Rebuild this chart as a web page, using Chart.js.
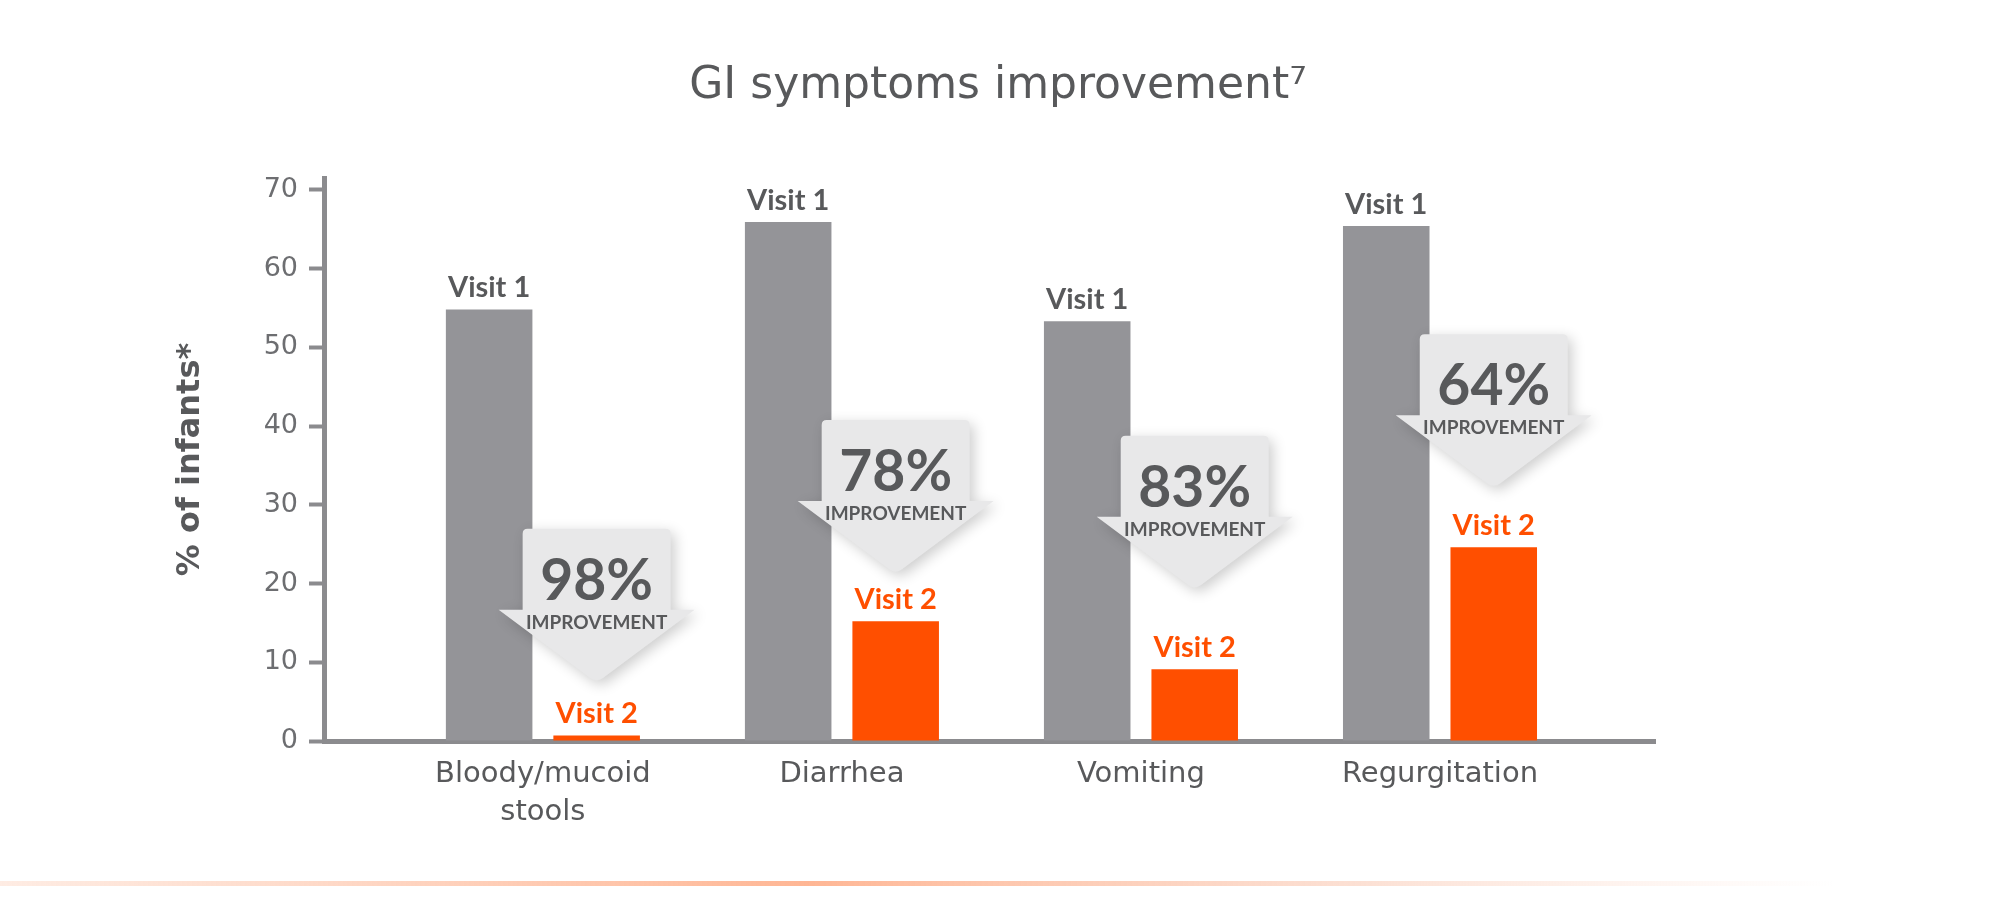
<!DOCTYPE html>
<html><head><meta charset="utf-8">
<script src="https://cdn.jsdelivr.net/npm/chart.js@4.4.1/dist/chart.umd.min.js"></script>
<style>html,body{margin:0;padding:0;background:#fff;}#wrap{width:1996px;height:900px;position:relative;}</style>
</head><body><div id="wrap"><canvas id="c"></canvas></div>
<script>
// ---- data ----
const categories = [['Bloody/mucoid', 'stools'], 'Diarrhea', 'Vomiting', 'Regurgitation'];
const seriesNames = ['Visit 1', 'Visit 2'];
const visit1 = [54.8, 65.9, 53.3, 65.4];
const visit2 = [0.7, 15.2, 9.1, 24.6];
const improvement = ['98%', '78%', '83%', '64%'];
const improvementWord = 'IMPROVEMENT';
const arrowTipAt = [7.4, 21.2, 19.2, 32.1];   // value level of each arrow tip
const yTicks = [0, 10, 20, 30, 40, 50, 60, 70];
const titleText = 'GI symptoms improvement\u2077';
const yTitle = '% of infants*';

// ---- styles ----
const TEXT = '#58595b';
const AXIS = '#8b8b8e';
const GRAY = '#949498';
const ORANGE = '#ff4f00';

const bgLine = {
  id: 'bgLine',
  beforeDraw(chart) {
    const c = chart.ctx;
    c.save();
    const g = c.createLinearGradient(0, 0, 1833, 0);
    g.addColorStop(0, 'rgba(253,200,175,0.35)');
    g.addColorStop(0.44, 'rgba(255,182,148,1)');
    g.addColorStop(0.75, 'rgba(250,205,185,0.6)');
    g.addColorStop(1, 'rgba(255,220,205,0)');
    c.fillStyle = g;
    c.fillRect(0, 881, 1833, 5);
    c.restore();
  }
};

const arrows = {
  id: 'arrows',
  afterDatasetsDraw(chart) {
    const c = chart.ctx;
    const ys = chart.scales.y;
    const meta = chart.getDatasetMeta(1);
    const H = 154, boxH = 81, boxW = 148, headW = 196, r = 5;
    improvement.forEach((txt, i) => {
      const cx = meta.data[i].x;
      const tipY = ys.getPixelForValue(arrowTipAt[i]);
      const top = tipY - H, wingY = top + boxH;
      c.save();
      c.shadowColor = 'rgba(0,0,0,0.20)';
      c.shadowBlur = 14; c.shadowOffsetX = 4; c.shadowOffsetY = 4;
      c.fillStyle = '#e8e8e9';
      c.beginPath();
      c.moveTo(cx - boxW / 2 + r, top);
      c.lineTo(cx + boxW / 2 - r, top);
      c.quadraticCurveTo(cx + boxW / 2, top, cx + boxW / 2, top + r);
      c.lineTo(cx + boxW / 2, wingY);
      c.lineTo(cx + headW / 2, wingY);
      c.lineTo(cx + 6.4, tipY - 4.8);
      c.quadraticCurveTo(cx, tipY, cx - 6.4, tipY - 4.8);
      c.lineTo(cx - headW / 2, wingY);
      c.lineTo(cx - boxW / 2, wingY);
      c.lineTo(cx - boxW / 2, top + r);
      c.quadraticCurveTo(cx - boxW / 2, top, cx - boxW / 2 + r, top);
      c.closePath();
      c.fill();
      c.restore();
      c.save();
      c.fillStyle = TEXT;
      c.textAlign = 'center';
      c.textBaseline = 'alphabetic';
      c.font = 'bold 57px Lato';
      c.fillText(txt, cx, top + 71);
      c.font = 'bold 19px Lato';
      c.fillText(improvementWord, cx, top + 100);
      c.restore();
    });
  }
};

const barLabels = {
  id: 'barLabels',
  afterDatasetsDraw(chart) {
    const c = chart.ctx;
    c.save();
    c.textAlign = 'center';
    c.textBaseline = 'alphabetic';
    c.font = 'bold 29px Lato';
    chart.data.datasets.forEach((ds, d) => {
      c.fillStyle = d === 0 ? TEXT : ORANGE;
      chart.getDatasetMeta(d).data.forEach(bar => {
        c.fillText(ds.label, bar.x, bar.y - 12);
      });
    });
    c.restore();
  }
};

new Chart(document.getElementById('c'), {
  type: 'bar',
  data: {
    datasets: [
      { label: seriesNames[0], data: visit1.map((v, i) => ({ x: i, y: v })), backgroundColor: GRAY,
        categoryPercentage: 0.719, barPercentage: 0.805 },
      { label: seriesNames[1], data: visit2.map((v, i) => ({ x: i, y: v })), backgroundColor: ORANGE,
        categoryPercentage: 0.719, barPercentage: 0.805 }
    ]
  },
  options: {
    responsive: true, maintainAspectRatio: false, animation: false,
    layout: { padding: { left: 0, right: 0, top: 0, bottom: 59 } },
    plugins: {
      legend: { display: false },
      tooltip: { enabled: false },
      title: { display: true, text: titleText, color: TEXT,
        font: { family: 'DejaVu Sans', size: 44, weight: 'normal', lineHeight: 1.2 },
        padding: { top: 60.6, bottom: 64.6 } }
    },
    scales: {
      x: {
        type: 'linear', min: -0.732, max: 3.719, offset: false,
        grid: { display: true, drawOnChartArea: false, drawTicks: false, offset: false },
        border: { display: true, color: AXIS, width: 5 },
        afterBuildTicks: s => { s.ticks = categories.map((_, i) => ({ value: i })); },
        afterFit: s => { s.height = 100; },
        ticks: { autoSkip: false, maxRotation: 0, minRotation: 0, padding: 14, color: TEXT,
          font: { family: 'DejaVu Sans', size: 29, lineHeight: 1.31 },
          callback: v => categories[v] }
      },
      y: {
        min: 0, max: 71.5,
        afterBuildTicks: s => { s.ticks = yTicks.map(v => ({ value: v })); },
        afterFit: s => { s.width = 324; },
        grid: { drawOnChartArea: false, drawTicks: true, tickLength: 15, tickWidth: 4, tickColor: AXIS },
        border: { color: AXIS, width: 5 },
        ticks: { padding: 11, color: '#6d6e71', font: { family: 'DejaVu Sans', size: 27 } },
        title: { display: true, text: yTitle, color: TEXT,
          font: { family: 'DejaVu Sans', size: 32, weight: 'bold', lineHeight: 1.2 },
          padding: { top: 171, bottom: 0 } }
      },
      rightSpace: {
        position: 'right', display: true,
        grid: { display: false, drawTicks: false }, border: { display: false },
        ticks: { display: false },
        afterFit: s => { s.width = 341; }
      }
    }
  },
  plugins: [bgLine, arrows, barLabels]
});
</script>
</body></html>
